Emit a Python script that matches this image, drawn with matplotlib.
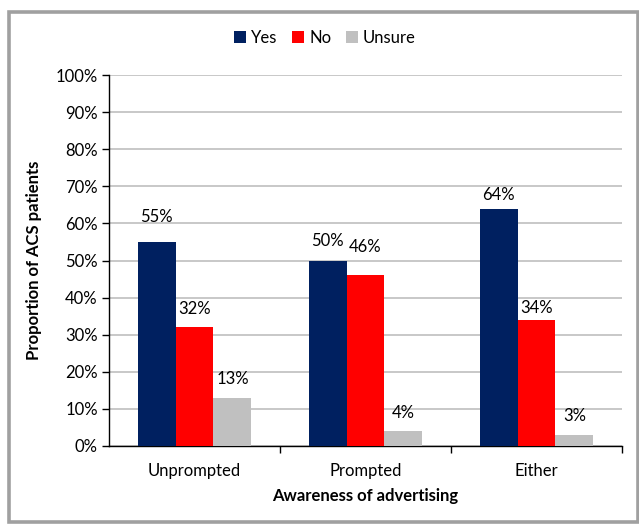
import matplotlib.pyplot as plt
import matplotlib.ticker as mticker
from matplotlib.patches import Rectangle
import numpy as np

plt.rcParams['font.family'] = ['Lato', 'DejaVu Sans']

categories = ['Unprompted', 'Prompted', 'Either']
yes = [55, 50, 64]
no = [32, 46, 34]
unsure = [13, 4, 3]
series_names = ['Yes', 'No', 'Unsure']
colors = ['#002060', '#FF0000', '#C0C0C0']

# gap (pixels) between bar top and centre of its label, as placed in the original
label_gaps = [[25, 19, 14], [18, 28, 12], [19, 18, 19]]

fig = plt.figure(figsize=(6.39, 5.25), dpi=100)
fig.set_facecolor('white')
ax = fig.add_axes([109 / 639, 1 - 446 / 525, (622 - 109) / 639, (446 - 75) / 525])

# grey frame round the whole chart
fig.patches.append(Rectangle((9 / 639, 3 / 525), 629 / 639, 510 / 525,
                             transform=fig.transFigure, fill=False,
                             edgecolor='#A0A0A0', linewidth=2.6))

x = np.arange(len(categories))
width = 0.222
for i, (vals, name, col) in enumerate(zip([yes, no, unsure], series_names, colors)):
    pos = x + (i - 1) * width
    ax.bar(pos, vals, width, color=col, label=name, zorder=3)
    for p, v, g in zip(pos, vals, label_gaps[i]):
        ax.annotate(f'{v}%', (p, v), xytext=(0, g), textcoords='offset pixels',
                    ha='center', va='center', fontsize=12)

ax.set_xlim(-0.5, 2.5)
ax.set_ylim(0, 100)
ax.yaxis.set_major_locator(mticker.MultipleLocator(10))
ax.yaxis.set_major_formatter(mticker.FuncFormatter(lambda v, p: f'{int(v)}%'))
ax.grid(axis='y', color='#BFBFBF', linewidth=1.2, zorder=0)
ax.set_axisbelow(True)

ax.set_xticks(x)
ax.set_xticklabels(categories)
ax.set_xticks([0.5, 1.5, 2.5], minor=True)
ax.tick_params(axis='x', which='major', length=0, pad=12, labelsize=12)
ax.tick_params(axis='x', which='minor', length=5, width=1)
ax.tick_params(axis='y', length=5, width=1, labelsize=12, pad=3)
for s in ['top', 'right']:
    ax.spines[s].set_visible(False)
ax.spines['left'].set_linewidth(1)
ax.spines['bottom'].set_linewidth(1)

ax.set_xlabel('Awareness of advertising', fontsize=12, fontweight='bold', labelpad=7)
ax.set_ylabel('Proportion of ACS patients', fontsize=12, fontweight='bold', labelpad=10)

fig.legend(loc='center', bbox_to_anchor=(325 / 639, 1 - 38 / 525), ncol=3, frameon=False,
           fontsize=12, handlelength=0.7, handleheight=0.7, handletextpad=0.3,
           columnspacing=0.9)

plt.savefig('out.png', dpi=100)
